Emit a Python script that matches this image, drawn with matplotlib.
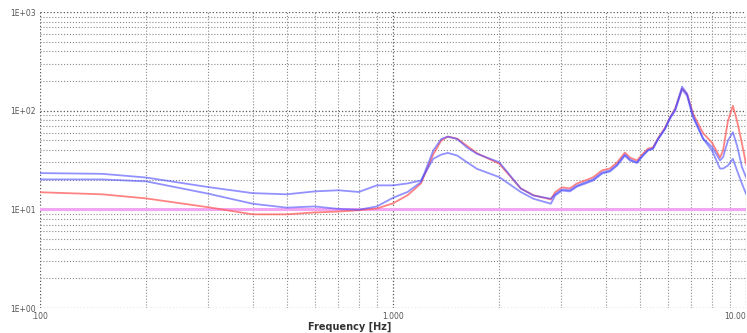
import matplotlib
matplotlib.use("Agg")
import matplotlib.pyplot as plt
from matplotlib.ticker import LogLocator, NullFormatter

# frequency points (Hz) shared by the three traces
freq = [0.10, 0.15, 0.20, 0.30, 0.40, 0.50, 0.60, 0.70, 0.80, 0.90,
        1.00, 1.10, 1.20, 1.30, 1.37, 1.43, 1.52, 1.62, 1.73, 2.00,
        2.30, 2.50, 2.80, 2.88, 3.01, 3.17, 3.32, 3.50, 3.69, 3.91,
        4.12, 4.31, 4.54, 4.69, 4.91, 5.11, 5.28, 5.45, 5.63, 5.90,
        6.09, 6.30, 6.59, 6.81, 7.08, 7.56, 8.01, 8.44, 8.61, 8.89,
        9.18, 9.43, 9.74, 10.0]

red_vals = [14.9, 14.2, 12.9, 10.5, 8.9, 8.9, 9.3, 9.5, 9.8, 10.2,
            11.5, 13.9, 18.3, 36.0, 49.8, 54.6, 52.0, 44.0, 37.0, 29.0,
            16.3, 13.9, 12.6, 14.9, 16.7, 16.3, 18.3, 19.6, 21.1, 24.8,
            26.0, 29.8, 37.6, 33.5, 31.3, 36.8, 41.3, 42.3, 52.2, 67.3,
            85.0, 105.0, 167.0, 148.0, 93.0, 59.0, 47.5, 33.5, 39.4, 79.0,
            112.0, 79.0, 46.4, 29.0]

blue_a_vals = [23.3, 22.9, 21.0, 16.8, 14.6, 14.2, 15.2, 15.6, 15.0, 17.5,
               17.5, 18.3, 19.6, 32.5, 35.9, 37.3, 35.1, 30.0, 25.7, 21.2,
               15.0, 12.8, 11.4, 13.8, 15.5, 15.2, 17.0, 18.2, 19.6, 23.0,
               24.2, 27.7, 35.0, 31.2, 29.5, 35.0, 39.5, 41.0, 51.0, 65.0,
               83.0, 100.0, 165.0, 141.0, 85.0, 52.0, 39.4, 25.9, 25.9, 27.8,
               32.5, 24.8, 18.2, 14.4]

blue_b_vals = [20.1, 20.1, 19.2, 14.4, 11.4, 10.4, 10.7, 10.1, 9.9, 10.7,
               13.1, 15.0, 18.9, 39.4, 51.6, 54.6, 51.6, 42.4, 36.5, 30.0,
               16.3, 13.8, 12.8, 14.2, 15.9, 15.6, 17.4, 18.7, 20.1, 23.6,
               24.8, 28.4, 35.9, 32.0, 30.0, 35.5, 40.0, 41.5, 51.5, 66.5,
               85.0, 103.0, 175.0, 148.0, 89.0, 52.0, 43.0, 31.3, 33.8, 49.8,
               60.4, 44.3, 26.8, 21.2]

ref_level = 10.0

x_ticks = [0.1, 1.0, 10.0]
x_labels = [".100", "1.000", "10.00"]
y_ticks = [1, 10, 100, 1000]
y_labels = ["1E+00", "1E+01", "1E+02", "1E+03"]

fig = plt.figure(figsize=(7.47, 3.33), dpi=100)
ax = fig.add_axes([40 / 747, 1 - 308 / 333, 706 / 747, 296 / 333])
ax.set_xscale("log")
ax.set_yscale("log")
ax.set_xlim(0.1, 10)
ax.set_ylim(1, 1000)

# grille log, majeure + mineure en pointillés
ax.xaxis.set_minor_locator(LogLocator(base=10, subs=range(2, 10)))
ax.yaxis.set_minor_locator(LogLocator(base=10, subs=range(2, 10)))
ax.xaxis.set_minor_formatter(NullFormatter())
ax.yaxis.set_minor_formatter(NullFormatter())
ax.grid(True, which="major", linestyle=":", color="#555555", linewidth=0.9)
ax.grid(True, which="minor", linestyle=":", color="#8a8a8a", linewidth=0.8)
ax.set_axisbelow(True)
for sp in ax.spines.values():
    sp.set_visible(False)
ax.tick_params(which="both", length=0, pad=3, labelsize=5.5, colors="#555555")

ax.set_xticks(x_ticks)
ax.set_xticklabels(x_labels)
ax.set_yticks(y_ticks)
ax.set_yticklabels(y_labels)
ax.get_xticklabels()[-1].set_horizontalalignment("right")

ax.axhline(ref_level, color="#f2a6f2", linewidth=2.2, zorder=2)

ax.plot(freq, red_vals, color="#ff5a5a", alpha=0.75, linewidth=1.3, zorder=3)
ax.plot(freq, blue_a_vals, color="#4a4aff", alpha=0.6, linewidth=1.3, zorder=4)
ax.plot(freq, blue_b_vals, color="#4a4aff", alpha=0.6, linewidth=1.3, zorder=4)

fig.text(350 / 747, 1 - 327 / 333, "Frequency [Hz]", ha="center", va="center",
         fontsize=7, fontweight="bold", color="#333333")

fig.savefig("out.png", dpi=100)
